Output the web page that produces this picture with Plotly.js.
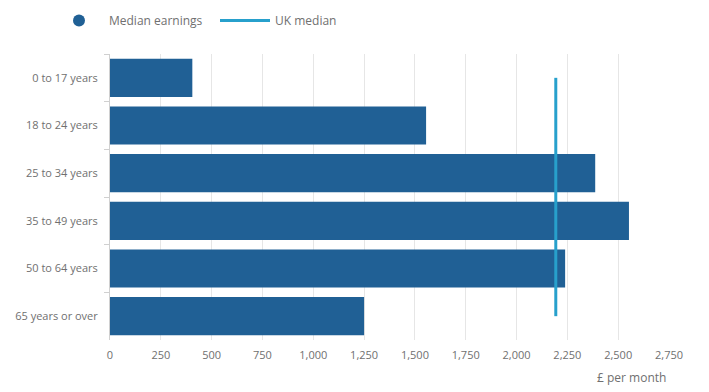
<!DOCTYPE html>
<html><head><meta charset="utf-8">
<script src="https://cdn.plot.ly/plotly-3.0.1.min.js"></script>
<style>html,body{margin:0;padding:0;background:#fff}#chart{width:709px;height:392px}</style>
</head><body><div id="chart"></div>
<script>
const categories = ["0 to 17 years","18 to 24 years","25 to 34 years","35 to 49 years","50 to 64 years","65 years or over"];
const medianEarnings = [405, 1555, 2387, 2553, 2239, 1250];
const ukMedian = 2193;
const xTicks = [0,250,500,750,1000,1250,1500,1750,2000,2250,2500,2750];
const xTickLabels = ["0","250","500","750","1,000","1,250","1,500","1,750","2,000","2,250","2,500","2,750"];

const grey = "#707070";
const traces = [
  {type:"bar", orientation:"h", y:categories, x:medianEarnings, marker:{color:"#206095"},
   showlegend:false, hoverinfo:"x+y"},
  {type:"scatter", mode:"markers", x:[null], y:[null], name:"Median earnings",
   marker:{color:"#206095", size:12, symbol:"circle"}, showlegend:true},
  {type:"scatter", mode:"lines", y:[categories[0], categories[categories.length-1]],
   x:[ukMedian, ukMedian], name:"UK median", line:{color:"#27a0cc", width:3}, showlegend:true}
];
const layout = {
  width:709, height:392,
  margin:{l:110, r:40, t:54, b:52},
  paper_bgcolor:"#fff", plot_bgcolor:"#fff",
  font:{family:"Open Sans, sans-serif", size:12, color:grey},
  bargap:0.2,
  showlegend:true,
  legend:{orientation:"h", x:49/709, xref:"container", y:1-6/392, yref:"container", xanchor:"left", yanchor:"top",
          font:{size:12, color:grey}, itemwidth:50, traceorder:"normal", entrywidth:101},
  xaxis:{range:[0,2750], tickvals:xTicks, ticktext:xTickLabels, showgrid:true, gridcolor:"#e6e6e6",
         zeroline:false, showline:false, ticks:"", ticklabelstandoff:7, fixedrange:true, tickfont:{size:11,color:grey}},
  yaxis:{categoryorder:"array", categoryarray:categories, autorange:"reversed", showline:true, linecolor:"#d0d0d0",
         ticks:"outside", tickson:"boundaries", ticklen:5, tickcolor:"#d0d0d0", showgrid:false, zeroline:false,
         ticklabelstandoff:9, tickfont:{size:11,color:grey}},
  annotations:[{text:"£ per month", xref:"paper", yref:"paper", x:1, y:0, xanchor:"right", yanchor:"top",
                yshift:-27, xshift:-1, showarrow:false, font:{size:12,color:grey}}]
};
Plotly.newPlot("chart", traces, layout, {displayModeBar:false, staticPlot:true});
</script></body></html>
